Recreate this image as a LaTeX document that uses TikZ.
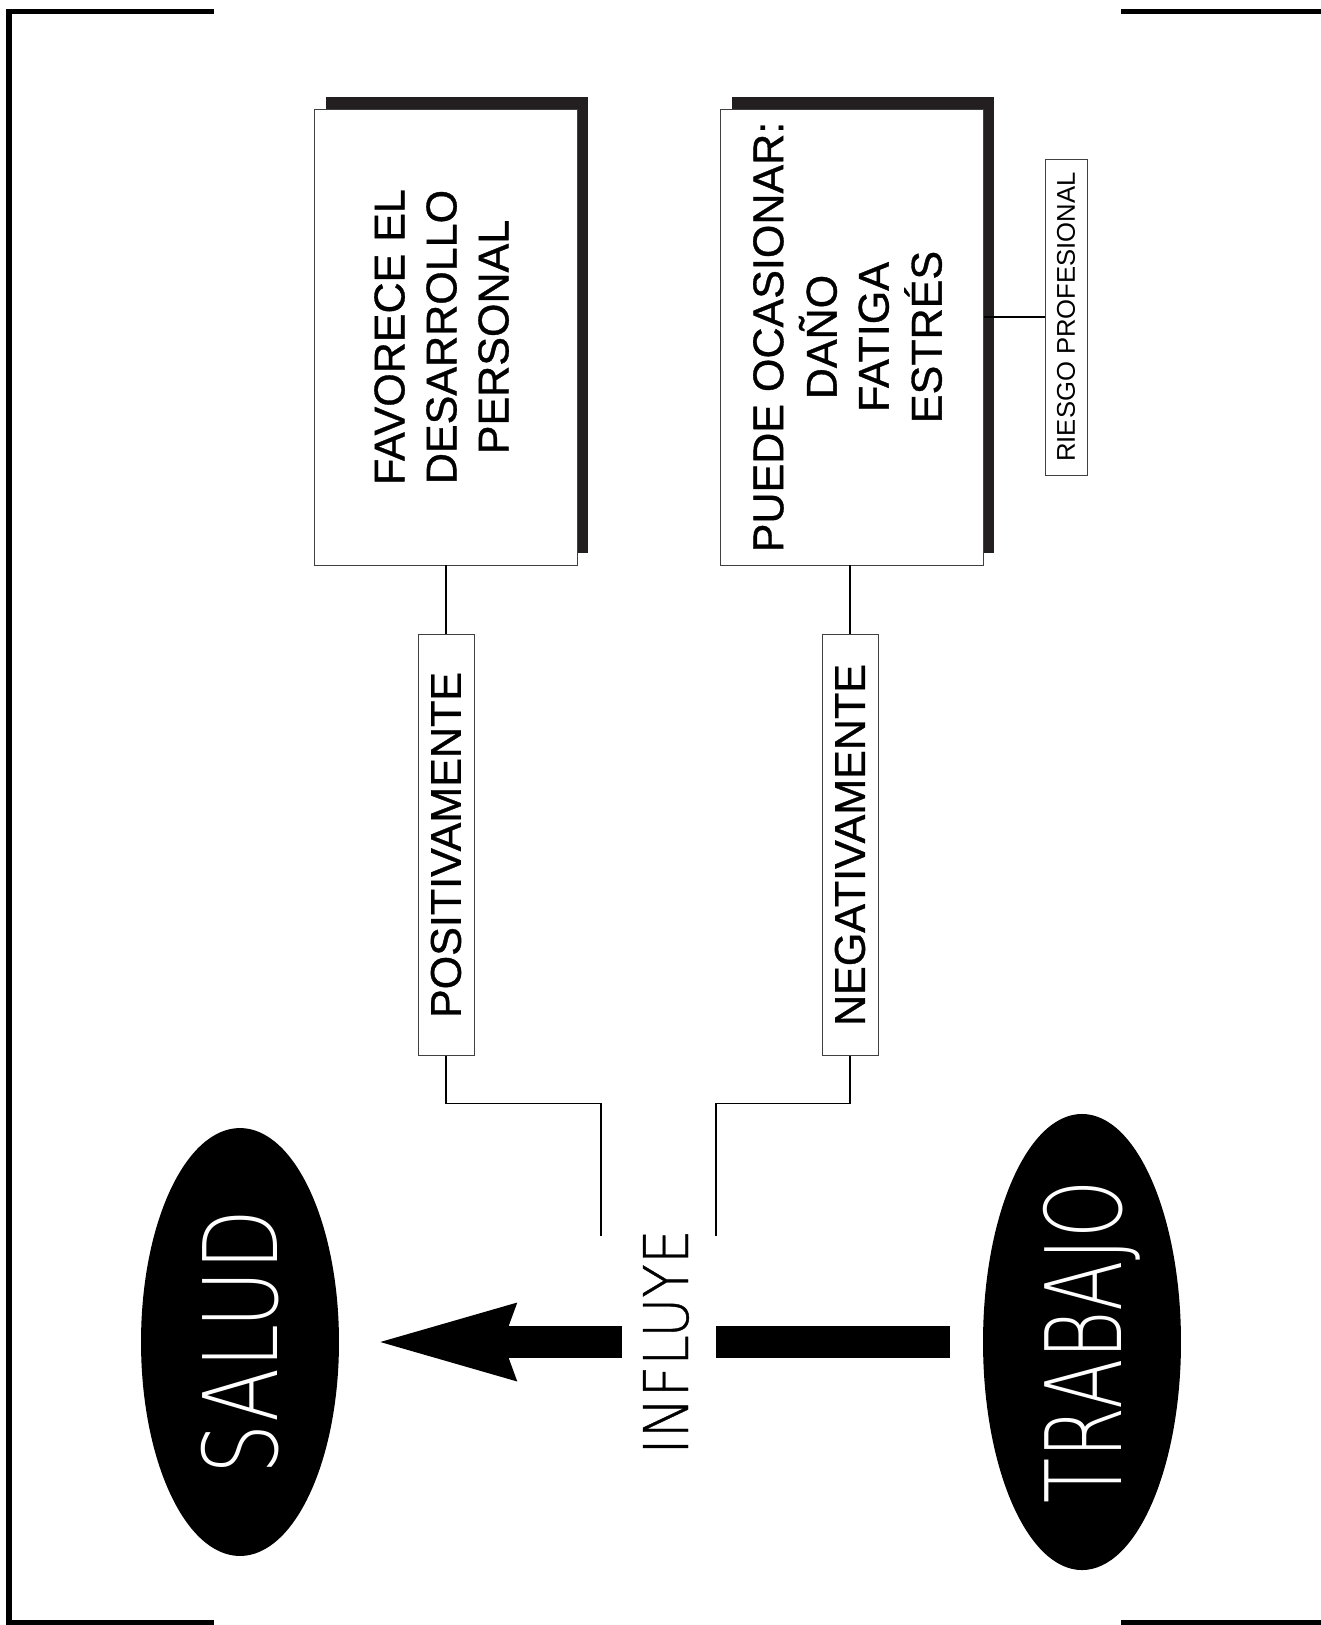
\documentclass[tikz,border=0pt]{standalone}
\usepackage{fontspec}
\setmainfont{Liberation Sans}
\newfontfamily\boxfont{Liberation Sans}[FakeBold=0.8]
\newfontfamily\saludfont{DejaVu Sans ExtraLight}[FakeStretch=0.77]
\newfontfamily\trabajofont{DejaVu Sans ExtraLight}[FakeStretch=0.70]
\newfontfamily\influyefont{DejaVu Sans ExtraLight}[FakeStretch=0.89, FakeBold=0.6]
\usepackage{graphicx}
\usetikzlibrary{shapes.geometric,arrows.meta,shadows}
\definecolor{shade}{HTML}{231F20}
\newcommand{\vtext}[1]{\rotatebox{90}{#1}}

\begin{document}
\begin{tikzpicture}[x=0.02cm, y=-0.02cm,
  frame/.style={line width=0.11cm},
  box/.style={draw=black!75, line width=0.5pt, fill=white, inner sep=0pt,
    minimum width=5.26cm, minimum height=9.12cm,
    font=\boxfont\fontsize{24.5}{29.6}\selectfont,
    drop shadow={shadow xshift=0.22cm, shadow yshift=0.24cm, fill=shade, opacity=1}},
  tag/.style={draw=black!75, line width=0.5pt, fill=white, inner sep=0pt,
    minimum width=1.12cm, minimum height=8.42cm,
    font=\boxfont\fontsize{24.5}{29.6}\selectfont},
  oval/.style={ellipse, fill=black, text=white, inner sep=0pt,
    minimum width=3.96cm, minimum height=8.56cm},
  link/.style={line width=0.6pt},
  fat/.style={line width=0.63cm}]
\useasboundingbox (0,0) rectangle (1320,1625);
\draw[frame] (214,11.5) -- (8.8,11.5) -- (8.8,1623) -- (214,1623);
\draw[frame] (1121,11.5) -- (1330,11.5);
\draw[frame] (1121,1623) -- (1330,1623);

\node[box] (favorece) at (446,337)
  {\vtext{\begin{tabular}{@{}c@{}}FAVORECE EL\\DESARROLLO\\PERSONAL\end{tabular}}};
\node[box] (puede) at (852,337)
  {\vtext{\begin{tabular}{@{}c@{}}PUEDE OCASIONAR:\\DAÑO\\FATIGA\\ESTRÉS\end{tabular}}};
\node[draw=black!75, line width=0.5pt, inner sep=0pt, minimum width=0.84cm,
  minimum height=6.32cm, font=\fontsize{14.6}{16}\selectfont] (riesgo) at (1066,317)
  {\vtext{RIESGO PROFESIONAL}};
\node[tag] (posit) at (446,845) {\vtext{POSITIVAMENTE}};
\node[tag] (negat) at (850,845) {\vtext{NEGATIVAMENTE}};
\node[oval, font=\saludfont\fontsize{58.5}{60}\selectfont] (salud) at (240,1342) {\vtext{SALUD}};
\node[oval, font=\trabajofont\fontsize{60}{62}\selectfont] (trabajo) at (1082,1342)
  {\vtext{\raisebox{0pt}[\height][0pt]{TRABAJO}}};
\node[inner sep=0pt, font=\influyefont\fontsize{35.1}{36}\selectfont] (influye) at (666,1342) {\vtext{INFLUYE}};
\coordinate (posend) at (601,1236);
\coordinate (negend) at (716,1236);

\draw[link] (posit.north) -- (posit.north |- favorece.south);
\draw[link] (negat.north) -- (negat.north |- puede.south);
\draw[link] (riesgo.west) -- (riesgo.west -| puede.east);
\draw[link] (posit.south) -- ++(0,48) -| (posend);
\draw[link] (negat.south) -- ++(0,48) -| (negend);
\draw[fat, shorten <=0.66cm, shorten >=0.54cm] (trabajo.west) -- (influye.east);
\draw[fat, -{Stealth[length=2.74cm, width=1.58cm, inset=0.29cm, line width=0pt]},
  shorten <=0.42cm, shorten >=0.82cm] (influye.west) -- (salud.east);
\end{tikzpicture}
\end{document}
